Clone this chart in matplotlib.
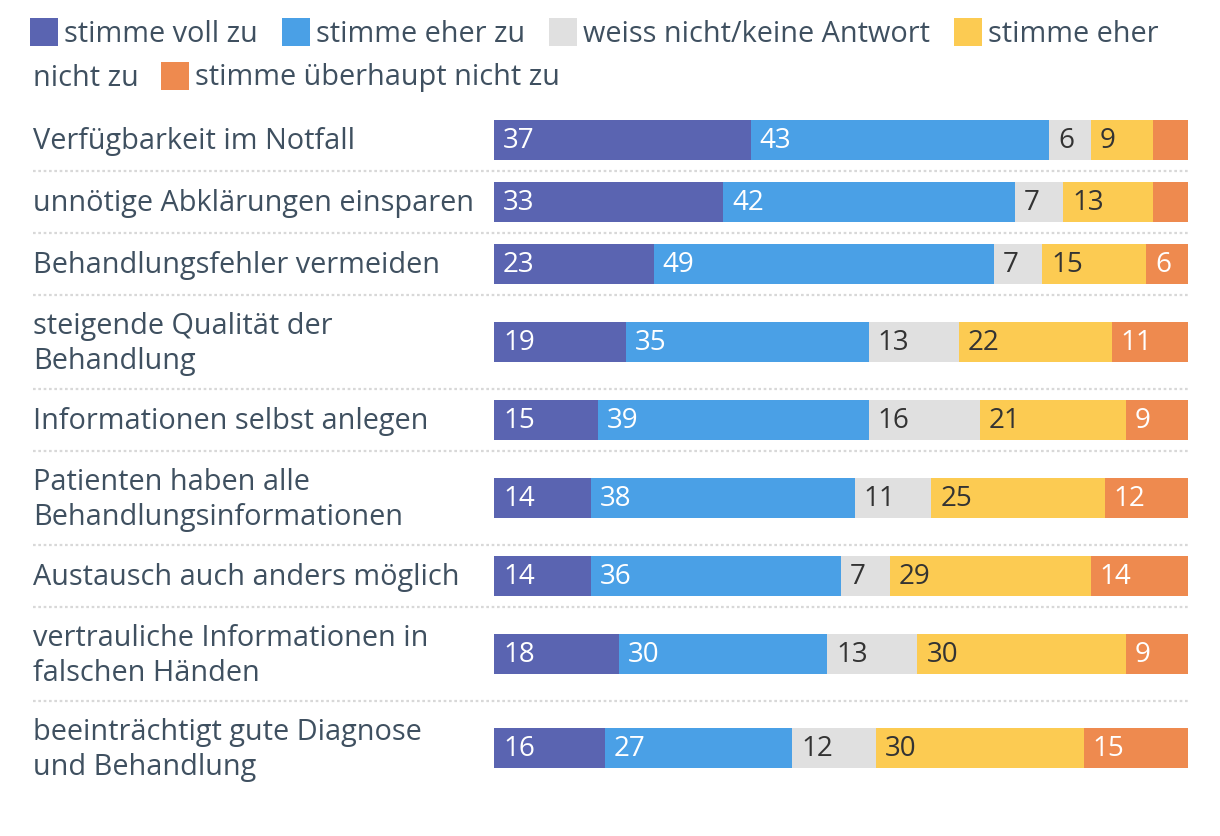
import matplotlib
matplotlib.use("Agg")
import matplotlib.pyplot as plt
from matplotlib.patches import Rectangle
from matplotlib.lines import Line2D
import numpy as np

categories = [
    "Verfügbarkeit im Notfall",
    "unnötige Abklärungen einsparen",
    "Behandlungsfehler vermeiden",
    "steigende Qualität der\nBehandlung",
    "Informationen selbst anlegen",
    "Patienten haben alle\nBehandlungsinformationen",
    "Austausch auch anders möglich",
    "vertrauliche Informationen in\nfalschen Händen",
    "beeinträchtigt gute Diagnose\nund Behandlung",
]
series_names = ["stimme voll zu", "stimme eher zu", "weiss nicht/keine Antwort",
                "stimme eher nicht zu", "stimme überhaupt nicht zu"]
voll_zu = [37, 33, 23, 19, 15, 14, 14, 18, 16]
eher_zu = [43, 42, 49, 35, 39, 38, 36, 30, 27]
weiss_nicht = [6, 7, 7, 13, 16, 11, 7, 13, 12]
eher_nicht_zu = [9, 13, 15, 22, 21, 25, 29, 30, 30]
ueberhaupt_nicht_zu = [5, 5, 6, 11, 9, 12, 14, 9, 15]

colors = ['#5a64b1', '#4aa0e6', '#e0e0e0', '#fccb52', '#ee8a4f']
value_colors = ['white', 'white', '#333333', '#333333', 'white']
TEXT = '#3f5060'
FONT = 'Open Sans'
FS = 20.8
FS_VAL = 20

W, H = 1220, 836
fig = plt.figure(figsize=(W / 100, H / 100), dpi=100)
fig.patch.set_facecolor('white')

# background axes in pixel coordinates
bg = fig.add_axes([0, 0, 1, 1])
bg.set_xlim(0, W)
bg.set_ylim(H, 0)
bg.axis('off')

# row layout (pixels)
row_centers = [140, 202, 264, 342, 420, 498, 576, 654, 748]
separators = [171, 233, 295, 389, 451, 545, 607, 701]
bar_left, bar_right = 494, 1188

ax = fig.add_axes([bar_left / W, 0, (bar_right - bar_left) / W, 1])
ax.set_xlim(0, 100)
ax.set_ylim(H, 0)
ax.axis('off')

series = [voll_zu, eher_zu, weiss_nicht, eher_nicht_zu, ueberhaupt_nicht_zu]
left = np.zeros(len(categories))
for vals, col, vcol in zip(series, colors, value_colors):
    vals = np.array(vals, dtype=float)
    ax.barh(row_centers, vals, left=left, height=40, color=col, linewidth=0)
    for yc, l, v in zip(row_centers, left, vals):
        if v >= 6:
            ax.annotate(f"{int(v)}", xy=(l, yc), xytext=(9, -1), textcoords='offset pixels',
                        ha='left', va='center', color=vcol, fontsize=FS_VAL, family=FONT)
    left += vals

for y in separators:
    bg.add_line(Line2D([33, bar_right], [y, y], color='#d8d8d8', lw=1.6,
                       linestyle=(0, (1.2, 1.2))))

for yc, cat in zip(row_centers, categories):
    bg.text(33, yc + 2, cat, ha='left', va='center', color=TEXT, fontsize=FS,
            family=FONT, linespacing=1.28)

# legend
fig.canvas.draw()
renderer = fig.canvas.get_renderer()

def text_width(t):
    bb = t.get_window_extent(renderer=renderer)
    return bb.width

def legend_item(x, yc, color, label):
    bg.add_patch(Rectangle((x, yc - 14), 28, 28, color=color, lw=0))
    t = bg.text(x + 34, yc + 2, label, ha='left', va='center', color=TEXT, fontsize=FS, family=FONT)
    return x + 34 + text_width(t)

y1, y2 = 32, 76
x = 30
for i in range(3):
    x = legend_item(x, y1, colors[i], series_names[i]) + 24
legend_item(x, y1, colors[3], "stimme eher")
t = bg.text(33, y2 + 2, "nicht zu", ha='left', va='center', color=TEXT, fontsize=FS, family=FONT)
x = 33 + text_width(t) + 22
legend_item(x, y2, colors[4], series_names[4])

fig.savefig("out.png", dpi=100, facecolor='white')
